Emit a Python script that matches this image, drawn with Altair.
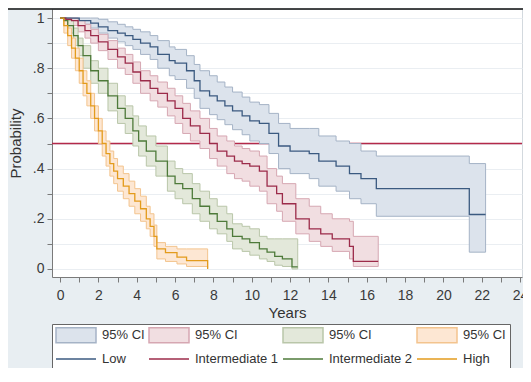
import altair as alt
import pandas as pd

# ---------------- data ----------------
GROUPS = ["Low", "Intermediate 1", "Intermediate 2", "High"]

LOW_T = [0, 0.6, 1.0, 1.6, 2.0, 2.5, 3.0, 3.4, 3.8, 4.2, 4.7, 5.1, 5.7, 6.0, 6.6, 7.0, 7.3, 7.8, 8.2, 8.6,
         9.0, 9.5, 9.9, 10.4, 10.9, 11.4, 12.0, 13.0, 13.5, 14.4, 15.1, 15.7, 16.5, 21.35, 22.2]
LOW_S = [1, 1, 0.99, 0.98, 0.965, 0.95, 0.94, 0.93, 0.915, 0.90, 0.885, 0.855, 0.83, 0.82, 0.79, 0.75, 0.71, 0.69, 0.67, 0.65,
         0.63, 0.61, 0.59, 0.58, 0.54, 0.49, 0.47, 0.46, 0.43, 0.41, 0.38, 0.36, 0.32, 0.217, 0.217]
LOW_HI = [1, 1, 1, 1, 0.995, 0.985, 0.975, 0.965, 0.955, 0.945, 0.93, 0.91, 0.885, 0.875, 0.85, 0.815, 0.79, 0.77, 0.745, 0.725,
          0.705, 0.685, 0.665, 0.655, 0.62, 0.58, 0.56, 0.56, 0.53, 0.51, 0.50, 0.47, 0.45, 0.42, 0.42]
LOW_LO = [1, 0.99, 0.975, 0.96, 0.94, 0.92, 0.905, 0.89, 0.875, 0.855, 0.835, 0.80, 0.77, 0.755, 0.72, 0.68, 0.64, 0.615, 0.595, 0.575,
          0.555, 0.535, 0.51, 0.50, 0.46, 0.40, 0.38, 0.36, 0.33, 0.31, 0.28, 0.26, 0.21, 0.067, 0.067]

INT1_T = [0, 0.3, 0.6, 0.94, 1.3, 1.6, 2.0, 2.5, 3.0, 3.4, 3.8, 4.2, 4.7, 5.1, 5.6, 6.0, 6.4, 6.8, 7.3, 7.8,
          8.2, 8.7, 9.1, 9.5, 9.9, 10.4, 10.8, 11.3, 11.6, 12.3, 13.0, 13.6, 14.2, 15.1, 15.3, 16.6]
INT1_S = [1, 0.995, 0.99, 0.97, 0.95, 0.93, 0.905, 0.875, 0.845, 0.82, 0.785, 0.75, 0.72, 0.70, 0.67, 0.64, 0.60, 0.57, 0.54, 0.50,
          0.47, 0.45, 0.43, 0.42, 0.41, 0.39, 0.33, 0.30, 0.26, 0.20, 0.16, 0.14, 0.12, 0.09, 0.03, 0.03]
INT1_HI = [1, 1, 1, 0.99, 0.975, 0.955, 0.935, 0.91, 0.88, 0.855, 0.825, 0.79, 0.77, 0.745, 0.72, 0.69, 0.66, 0.63, 0.60, 0.56,
           0.53, 0.51, 0.49, 0.48, 0.47, 0.45, 0.40, 0.37, 0.34, 0.28, 0.25, 0.22, 0.20, 0.19, 0.13, 0.13]
INT1_LO = [1, 0.985, 0.97, 0.945, 0.92, 0.90, 0.87, 0.835, 0.80, 0.775, 0.74, 0.70, 0.67, 0.645, 0.61, 0.58, 0.54, 0.51, 0.48, 0.44,
           0.41, 0.38, 0.36, 0.35, 0.33, 0.31, 0.26, 0.23, 0.19, 0.14, 0.11, 0.09, 0.07, 0.04, 0.01, 0.01]

INT2_T = [0, 0.2, 0.4, 0.7, 0.94, 1.2, 1.6, 2.0, 2.5, 3.0, 3.4, 3.8, 4.1, 4.5, 5.0, 5.6, 6.0, 6.4, 6.9, 7.3,
          7.8, 8.2, 8.7, 9.0, 9.5, 9.9, 10.4, 10.8, 11.2, 11.6, 12.1, 12.4]
INT2_S = [1, 0.99, 0.97, 0.93, 0.89, 0.85, 0.79, 0.75, 0.69, 0.64, 0.60, 0.55, 0.51, 0.47, 0.43, 0.37, 0.34, 0.32, 0.28, 0.25,
          0.22, 0.19, 0.16, 0.13, 0.12, 0.105, 0.08, 0.067, 0.05, 0.04, 0.008, 0.008]
INT2_HI = [1, 1, 0.99, 0.96, 0.92, 0.89, 0.83, 0.80, 0.74, 0.69, 0.65, 0.61, 0.57, 0.53, 0.49, 0.43, 0.40, 0.38, 0.34, 0.31,
           0.28, 0.25, 0.22, 0.18, 0.17, 0.16, 0.13, 0.12, 0.12, 0.12, 0.12, 0.12]
INT2_LO = [1, 0.97, 0.94, 0.89, 0.85, 0.80, 0.74, 0.70, 0.63, 0.58, 0.54, 0.49, 0.45, 0.41, 0.37, 0.31, 0.28, 0.26, 0.22, 0.19,
           0.16, 0.14, 0.11, 0.08, 0.07, 0.055, 0.04, 0.03, 0.015, 0.01, 0.0, 0.0]

HIGH_T = [0, 0.2, 0.4, 0.6, 0.8, 1.0, 1.2, 1.4, 1.6, 1.8, 2.0, 2.2, 2.4, 2.6, 2.8, 3.0, 3.3, 3.6, 3.9, 4.2,
          4.5, 4.7, 4.9, 5.05, 5.5, 6.1, 6.6, 7.7]
HIGH_S = [1, 0.97, 0.93, 0.88, 0.84, 0.79, 0.74, 0.70, 0.65, 0.60, 0.55, 0.50, 0.46, 0.42, 0.39, 0.36, 0.33, 0.30, 0.27, 0.24,
          0.20, 0.17, 0.13, 0.08, 0.065, 0.047, 0.033, 0.0]
HIGH_HI = [1, 0.99, 0.96, 0.92, 0.88, 0.84, 0.79, 0.75, 0.70, 0.65, 0.60, 0.55, 0.51, 0.47, 0.44, 0.41, 0.38, 0.35, 0.32, 0.29,
           0.25, 0.22, 0.175, 0.105, 0.09, 0.08, 0.08, 0.08]
HIGH_LO = [1, 0.94, 0.89, 0.84, 0.79, 0.74, 0.69, 0.65, 0.60, 0.55, 0.50, 0.45, 0.41, 0.37, 0.34, 0.31, 0.28, 0.25, 0.22, 0.19,
           0.16, 0.13, 0.09, 0.04, 0.03, 0.02, 0.01, 0.005]

REF_PROB = [0.5]
X_TICKS = list(range(0, 25))
Y_TICKS = [0, 0.1, 0.2, 0.3, 0.4, 0.5, 0.6, 0.7, 0.8, 0.9, 1.0]
X_DOMAIN = [-0.42, 24.1]
Y_DOMAIN = [-0.032, 1.036]

# ---------------- styling ----------------
LINE_COLORS = ["#3b5a80", "#9c2b4a", "#4e7a3a", "#e39b1c"]
CI_FILLS = ["#dce3ec", "#f1dee1", "#e3e8da", "#fde7d3"]
CI_EDGES = ["#a5b3c6", "#d6a7b2", "#b9c6a9", "#f3c48e"]
REF_COLOR = "#b4294a"
FONT = "Liberation Sans"

series = [
    ("Low", LOW_T, LOW_S, LOW_LO, LOW_HI),
    ("Intermediate 1", INT1_T, INT1_S, INT1_LO, INT1_HI),
    ("Intermediate 2", INT2_T, INT2_S, INT2_LO, INT2_HI),
    ("High", HIGH_T, HIGH_S, HIGH_LO, HIGH_HI),
]
rows = []
for order, (g, T, S, LO, HI) in enumerate(series):
    for t, s, lo, hi in zip(T, S, LO, HI):
        rows.append({"group": g, "ci": "CI " + g, "edge": "CI " + g, "order": order,
                     "t": t, "s": s, "lo": lo, "hi": hi})
df = pd.DataFrame(rows)

CI_KEYS = ["CI " + g for g in GROUPS]
legend_domain = CI_KEYS + GROUPS
fill_scale = alt.Scale(domain=legend_domain, range=CI_FILLS + LINE_COLORS)
stroke_scale = alt.Scale(domain=legend_domain, range=CI_EDGES + LINE_COLORS)

x_scale = alt.Scale(domain=X_DOMAIN, nice=False, zero=False)
y_scale = alt.Scale(domain=Y_DOMAIN, nice=False, zero=False)

x_axis = alt.Axis(
    values=X_TICKS, labelExpr="datum.value % 2 == 0 ? datum.label : ''",
    grid=False, labelPadding=6, titlePadding=3, labelFlush=False, orient="bottom",
)
y_axis = alt.Axis(
    values=Y_TICKS,
    labelExpr="round(datum.value*10) % 2 == 1 ? '' : (datum.value == 0 ? '0' : (datum.value == 1 ? '1' : replace(format(datum.value, '.1f'), '0.', '.')))",
    grid=True, labelPadding=3, titlePadding=9, labelFlush=False, orient="left",
)

X = alt.X("t:Q", scale=x_scale, axis=x_axis, title="Years")

# legend symbols: size 144 -> unit 6 px; swatch 40x15 px, line 40 px, both starting at the entry's left edge
is_ci = "slice(datum.value,0,2)=='CI'"
legend = alt.Legend(
    title=None, orient="none", legendX=0, legendY=315,
    direction="horizontal", columns=4, columnPadding=0, rowPadding=6,
    padding=4, fillColor="white", strokeColor="#666666", cornerRadius=0,
    symbolSize=144,
    symbolType=alt.ExprRef(
        expr=f"{is_ci} ? 'M-1.1667,-1.25H5.5V1.25H-1.1667Z' : 'M-1.1667,0H5.5'"
    ),
    symbolStrokeColor=alt.ExprRef(expr="scale('fill', datum.value)"),
    symbolStrokeWidth=1.5, symbolOpacity=1,
    labelExpr="slice(datum.label,0,2)=='CI' ? '95% CI' : datum.label",
    labelFontSize=13,
    labelFont=FONT, labelColor="#333333", labelOffset=32, labelLimit=200,
)

base = alt.Chart(df)

ref = alt.Chart(pd.DataFrame({"p": REF_PROB})).mark_rule(color=REF_COLOR, strokeWidth=1.3).encode(
    y=alt.Y("p:Q", scale=y_scale, axis=y_axis, title="Probability")
)

bands = base.mark_area(interpolate="step-after", strokeWidth=1, opacity=1).encode(
    x=X,
    y=alt.Y("hi:Q", scale=y_scale, axis=y_axis, title="Probability"),
    y2="lo:Q",
    fill=alt.Fill("ci:N", scale=fill_scale, legend=legend),
    stroke=alt.Stroke("edge:N", scale=stroke_scale, legend=None),
    order=alt.Order("order:Q"),
)

lines = base.mark_line(interpolate="step-after", strokeWidth=1.3).encode(
    x=X,
    y=alt.Y("s:Q", scale=y_scale, axis=y_axis, title="Probability"),
    stroke=alt.Stroke("group:N", scale=stroke_scale, legend=None),
    detail="group:N",
)

top_border = alt.Chart(pd.DataFrame({"p": REF_PROB})).mark_rule(color="#111111", strokeWidth=1.5).encode(
    x=alt.value(-44), x2=alt.value(471), y=alt.value(0)
)

chart = alt.layer(ref, bands, lines, top_border).properties(
    width=470, height=268,
    padding={"left": 44, "top": 1, "right": 1, "bottom": 91},
    autosize=alt.AutoSizeParams(type="none"),
    background="#e8eef2",
).configure_view(
    fill="white", stroke="#d3d9de", strokeWidth=1,
).configure_axis(
    labelFont=FONT, titleFont=FONT, labelFontSize=14, titleFontSize=15,
    titleFontWeight="normal", labelColor="#3a3a3a", titleColor="#333333",
    domainColor="#7a7a7a", tickColor="#7a7a7a", tickSize=5, gridColor="#eaeef2",
)

chart.save("out.html", embed_options={"renderer": "svg", "actions": False})
